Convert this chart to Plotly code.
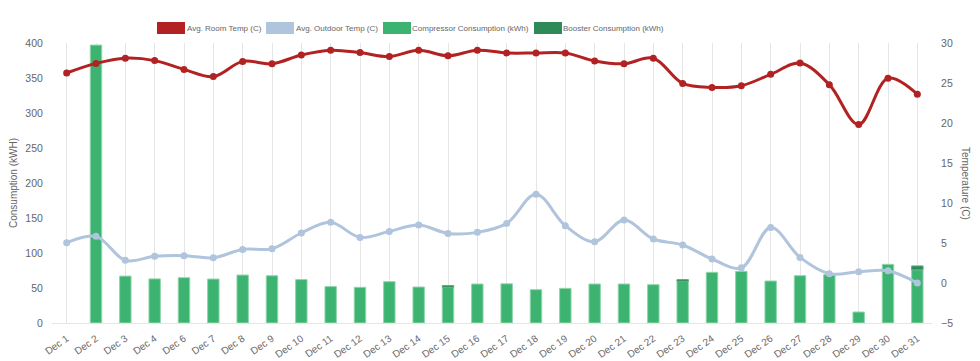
import plotly.graph_objects as go

# ---------------- data ----------------
dates = ["Dec 1", "Dec 2", "Dec 3", "Dec 4", "Dec 6", "Dec 7", "Dec 8", "Dec 9", "Dec 10",
         "Dec 11", "Dec 12", "Dec 13", "Dec 14", "Dec 15", "Dec 16", "Dec 17", "Dec 18",
         "Dec 19", "Dec 20", "Dec 21", "Dec 22", "Dec 23", "Dec 24", "Dec 25", "Dec 26",
         "Dec 27", "Dec 28", "Dec 29", "Dec 30", "Dec 31"]
room_temp = [26.25, 27.45, 28.1, 27.8, 26.7, 25.8, 27.7, 27.4, 28.5, 29.1, 28.8, 28.3, 29.1,
             28.4, 29.1, 28.75, 28.75, 28.75, 27.75, 27.4, 28.1, 24.95, 24.45, 24.66, 26.08,
             27.5, 24.79, 19.8, 25.6, 23.6]
outdoor_temp = [5.04, 5.83, 2.83, 3.33, 3.41, 3.16, 4.2, 4.29, 6.25, 7.58, 5.7, 6.45, 7.25,
                6.2, 6.33, 7.45, 11.1, 7.16, 5.16, 7.87, 5.5, 4.75, 3.0, 1.9, 6.95, 3.2,
                1.16, 1.4, 1.54, 0.0]
compressor = [None, 397, 67, 63, 64.7, 62.8, 68.5, 67.5, 62, 52, 51, 59, 51.4, 51, 55.7, 56,
              47.6, 49.5, 55.7, 55.7, 54.7, 59.5, 72.4, 73.8, 60, 67.6, 69, 15.7, 83.8, 76]
booster = [None, None, None, None, None, None, None, None, None, None, None, None, None, 2.5,
           None, None, None, None, None, None, None, 2.5, None, None, None, None, None, None,
           None, 5.5]
left_ticks = [0, 50, 100, 150, 200, 250, 300, 350, 400]
right_ticks = [-5, 0, 5, 10, 15, 20, 25, 30]

names = ["Avg. Room Temp (C)", "Avg. Outdoor Temp (C)",
         "Compressor Consumption (kWh)", "Booster Consumption (kWh)"]
colors = ["#b22222", "#b0c4de", "#3cb371", "#2e8b57"]

FONT = "Helvetica Neue, Liberation Sans, Arial, sans-serif"
TXT = "#666666"
GRID = "#e6e6e6"

# page body has an 8px default margin: shrink the figure so it fits the 980x361 window
OFF = 8
W, H = 980 - OFF, 361 - OFF
PL, PT, PR, PB = 52, 43, 932, 323   # plot area in window pixels
pw, ph = PR - PL, PB - PT
L, T = PL - OFF, PT - OFF
R, B = W - L - pw, H - T - ph

fig = go.Figure()

fig.add_trace(go.Bar(x=dates, y=compressor, name=names[2], yaxis="y",
                     marker=dict(color=colors[2], line=dict(color="#8fd6ab", width=1))))
fig.add_trace(go.Bar(x=dates, y=booster, name=names[3], yaxis="y",
                     marker=dict(color=colors[3], line=dict(color="#5fa97f", width=1))))
fig.add_trace(go.Scatter(x=dates, y=outdoor_temp, name=names[1], yaxis="y2",
                         mode="lines+markers", line=dict(color=colors[1], width=3,
                                                         shape="spline", smoothing=1),
                         marker=dict(color=colors[1], size=7)))
fig.add_trace(go.Scatter(x=dates, y=room_temp, name=names[0], yaxis="y2",
                         mode="lines+markers", line=dict(color=colors[0], width=3,
                                                         shape="spline", smoothing=1),
                         marker=dict(color=colors[0], size=7)))

# ---- manual legend (boxes + text), Chart.js style ----
# (box left px, text left px, text right px) in window pixels
legend_items = [(157, 188, 260), (266, 297, 377), (383, 413, 528), (534, 564, 663)]
shapes = []
annotations = []
def px_x(px):
    return (px - PL) / pw
def px_y(py):
    return (PB - py) / ph
for (bx, tx0, tx1), nm, col in zip(legend_items, names, colors):
    shapes.append(dict(type="rect", xref="paper", yref="paper",
                       x0=px_x(bx), x1=px_x(bx + 28), y0=px_y(34), y1=px_y(22),
                       fillcolor=col, line=dict(width=0)))
    annotations.append(dict(xref="paper", yref="paper", x=px_x((tx0 + tx1) / 2), y=px_y(28.5),
                            xanchor="center", yanchor="middle", showarrow=False, text=nm,
                            font=dict(family=FONT, size=8, color=TXT)))

annotations.append(dict(xref="paper", yref="paper", x=px_x(13), y=px_y(183),
                        xanchor="center", yanchor="middle", showarrow=False,
                        text="Consumption (kWH)", textangle=-90,
                        font=dict(family=FONT, size=10, color=TXT)))
annotations.append(dict(xref="paper", yref="paper", x=px_x(966), y=px_y(183),
                        xanchor="center", yanchor="middle", showarrow=False,
                        text="Temperature (C)", textangle=90,
                        font=dict(family=FONT, size=10, color=TXT)))

fig.update_layout(
    width=W, height=H,
    margin=dict(l=L, r=R, t=T, b=B, pad=0, autoexpand=False),
    paper_bgcolor="white", plot_bgcolor="white",
    barmode="relative", bargap=0.61,
    showlegend=False,
    font=dict(family=FONT, size=10.5, color=TXT),
    shapes=shapes, annotations=annotations,
    xaxis=dict(type="category", categoryorder="array", categoryarray=dates,
               range=[-0.5, len(dates) - 0.5], autorange=False,
               automargin=False,
               showgrid=True, gridcolor=GRID, gridwidth=1,
               showline=True, linecolor=GRID, linewidth=1,
               ticks="outside", ticklen=5, tickcolor="rgba(0,0,0,0)",
               tickangle=-35, tickfont=dict(size=10, color=TXT), zeroline=False),
    yaxis=dict(range=[0, 400], tickvals=left_ticks, showgrid=False, zeroline=False,
               automargin=False,
               showline=False, ticks="outside", ticklen=6, tickcolor="rgba(0,0,0,0)",
               tickfont=dict(size=10.5, color=TXT)),
    yaxis2=dict(range=[-5, 30], tickvals=right_ticks, overlaying="y", side="right",
                automargin=False,
                showgrid=False, zeroline=False, showline=False,
                ticks="outside", ticklen=6, tickcolor="rgba(0,0,0,0)",
                tickfont=dict(size=10.5, color=TXT)),
)

fig.write_html("out.html")
